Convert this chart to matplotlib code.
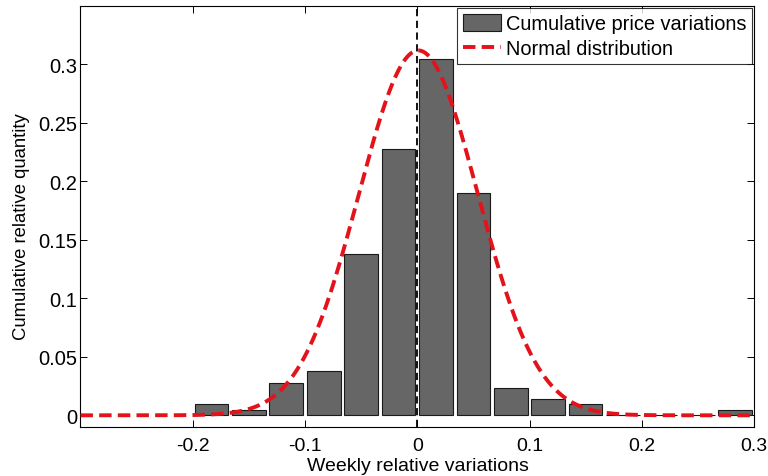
import numpy as np
import matplotlib
matplotlib.use("Agg")
import matplotlib.pyplot as plt

plt.rcParams['font.family'] = ['Liberation Sans', 'DejaVu Sans']

# Histogram data (bin centers and relative quantities)
bin_centers = [-11/60, -9/60, -7/60, -5/60, -3/60, -1/60, 1/60, 3/60, 5/60,
               7/60, 9/60, 11/60, 13/60, 15/60, 17/60]
rel_quantity = [0.0095, 0.0045, 0.028, 0.0375, 0.138, 0.228, 0.305, 0.190,
                0.0236, 0.0142, 0.0094, 0.0, 0.0, 0.0, 0.0043]

# Normal distribution parameters
norm_mean = 0.001
norm_sigma = 0.053
norm_peak = 0.312

x_ticks = [-0.2, -0.1, 0, 0.1, 0.2, 0.3]
x_ticklabels = ['-0.2', '-0.1', '0', '0.1', '0.2', '0.3']
y_ticks = [0, 0.05, 0.1, 0.15, 0.2, 0.25, 0.3]
y_ticklabels = ['0', '0.05', '0.1', '0.15', '0.2', '0.25', '0.3']

fig = plt.figure(figsize=(7.68, 4.77), dpi=100)
ax = fig.add_axes([0.1048, 0.1027, 0.877, 0.8826])

bin_w = 1/30
bars = ax.bar(bin_centers, rel_quantity, width=0.9*bin_w, color='#666666',
              edgecolor='#1a1a1a', linewidth=0.8, label='Cumulative price variations', zorder=2)

xs = np.linspace(-0.3, 0.3, 600)
ys = norm_peak*np.exp(-0.5*((xs-norm_mean)/norm_sigma)**2)
line, = ax.plot(xs, ys, linestyle=(0, (3.2, 1.6)), color='#e3121b', linewidth=2.8,
                label='Normal distribution', zorder=4)

ax.axvline(0, color='black', linestyle=(0, (4, 2.5)), linewidth=1.3, zorder=3)

ax.set_xlim(-0.3, 0.3)
ax.set_ylim(-0.01, 0.35)
ax.set_xticks(x_ticks)
ax.set_xticklabels(x_ticklabels)
ax.set_yticks(y_ticks)
ax.set_yticklabels(y_ticklabels)
ax.tick_params(direction='in', top=True, right=True, labelsize=14.5, length=5, width=0.7)
ax.tick_params(axis='x', pad=7.5, labelsize=14)
ax.tick_params(axis='y', pad=2.5)
for s in ax.spines.values():
    s.set_linewidth(0.8)

ax.set_xlabel('Weekly relative variations', fontsize=14)
ax.set_ylabel('Cumulative relative quantity', fontsize=13.3, va='center')
ax.xaxis.set_label_coords(0.501, -0.071)
ax.yaxis.set_label_coords(-0.0876, 0.4786)

leg = ax.legend([bars, line], ['Cumulative price variations', 'Normal distribution'],
                loc='upper right', fontsize=14.4, frameon=True, fancybox=False,
                edgecolor='black', borderaxespad=0.1, handlelength=1.9,
                handletextpad=0.25, borderpad=0.3, labelspacing=0.3, handleheight=0.9)
leg.get_frame().set_linewidth(0.8)
leg.set_zorder(5)

fig.savefig('out.png', dpi=100)
